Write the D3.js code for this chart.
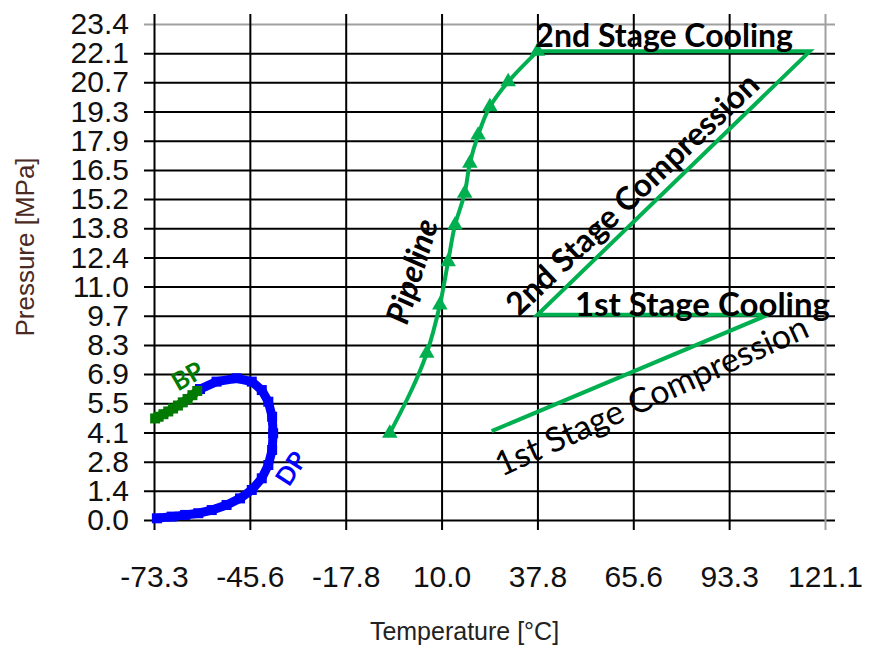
<!DOCTYPE html>
<html>
<head>
<meta charset="utf-8">
<script src="https://cdn.jsdelivr.net/npm/d3@7"></script>
<style>
  html, body { margin: 0; padding: 0; background: #fff; }
  svg { display: block; }
</style>
</head>
<body>
<svg id="chart" width="870" height="648"></svg>
<script>
// Axis ticks (°C and MPa, i.e. 50 °F and 200 psi steps)
const xTickValues = [-73.333, -45.556, -17.778, 10.0, 37.778, 65.556, 93.333, 121.111];
const yTickValues = [0, 1.379, 2.758, 4.137, 5.516, 6.895, 8.274, 9.653, 11.032, 12.411,
                     13.790, 15.168, 16.547, 17.926, 19.305, 20.684, 22.063, 23.442];

// Phase envelope: bubble point branch
const bpTemp  = [-73.0, -72.0, -70.6, -69.2, -67.8, -66.4, -65.0, -63.6, -62.2, -60.8];
const bpPress = [4.80, 4.88, 5.00, 5.13, 5.27, 5.41, 5.56, 5.72, 5.90, 6.10];

// Phase envelope: dew point branch
const dpTemp  = [-60.0, -55.2, -49.4, -45.0, -42.1, -40.2, -39.1, -38.8, -39.1, -40.2,
                 -42.1, -45.0, -48.4, -52.3, -56.6, -60.5, -64.3, -68.2, -72.5];
const dpPress = [6.19, 6.54, 6.70, 6.54, 6.14, 5.59, 4.88, 4.10, 3.31, 2.60,
                 1.97, 1.42, 1.02, 0.71, 0.47, 0.32, 0.24, 0.16, 0.08];

// Two-stage compression and cooling path
const compTemp  = [24.5, 104.6, 37.8, 116.7, 37.8];
const compPress = [4.20, 9.70, 9.70, 22.15, 22.15];

// Pipeline profile (outlet to inlet)
const pipeTemp  = [37.8, 29.3, 24.0, 20.6, 18.2, 16.7, 13.9, 11.9, 9.5, 5.7, -5.0];
const pipePress = [22.15, 20.71, 19.53, 18.19, 16.86, 15.44, 13.94, 12.21, 10.16, 7.88, 4.10];

const zip = (a, b) => a.map((v, i) => [v, b[i]]);
const bp   = zip(bpTemp, bpPress);
const dp   = zip(dpTemp, dpPress);
const comp = zip(compTemp, compPress);
const pipe = zip(pipeTemp, pipePress);

const svg = d3.select("#chart");
const x = d3.scaleLinear().domain([xTickValues[0], xTickValues[xTickValues.length - 1]]).range([154, 825]);
const y = d3.scaleLinear().domain([yTickValues[0], yTickValues[yTickValues.length - 1]]).range([520, 24]);

const xMax = x.domain()[1], yMax = y.domain()[1];
const GREEN = "#00b050";

// Grid lines, slightly overshooting the plot box like tick marks
const gy = svg.append("g")
  .attr("transform", `translate(${x.range()[1] + 10},0)`)
  .call(d3.axisLeft(y).tickValues(yTickValues).tickSize(x.range()[1] - x.range()[0] + 20).tickFormat(""));
gy.select(".domain").remove();
gy.selectAll(".tick line")
  .attr("stroke", d => d === yMax ? "#a0a0a0" : "#000")
  .attr("stroke-width", 2);

const gx = svg.append("g")
  .attr("transform", `translate(0,${y.range()[1] - 10})`)
  .call(d3.axisBottom(x).tickValues(xTickValues).tickSize(y.range()[0] - y.range()[1] + 20).tickFormat(""));
gx.select(".domain").remove();
gx.selectAll(".tick line")
  .attr("stroke", d => d === xMax ? "#a0a0a0" : "#000")
  .attr("stroke-width", 2);

// Tick labels (plain hyphen for negatives)
const fmt = d3.formatLocale({ decimal: ".", thousands: ",", grouping: [3], currency: ["", ""], minus: "-" }).format(".1f");
const ly = svg.append("g")
  .attr("transform", `translate(${x.range()[0]},0)`)
  .call(d3.axisLeft(y).tickValues(yTickValues).tickSize(0).tickPadding(25).tickFormat(fmt));
ly.select(".domain").remove();
ly.selectAll("text")
  .attr("font-family", "'Liberation Sans', Arial, sans-serif")
  .attr("font-size", 30).attr("fill", "#111");

const lx = svg.append("g")
  .attr("transform", `translate(0,${y.range()[0]})`)
  .call(d3.axisBottom(x).tickValues(xTickValues).tickSize(0).tickPadding(46).tickFormat(fmt));
lx.select(".domain").remove();
lx.selectAll("text")
  .attr("font-family", "'Liberation Sans', Arial, sans-serif")
  .attr("font-size", 30).attr("fill", "#111");

// Axis titles
svg.append("text")
  .attr("x", (x.range()[0] + x.range()[1]) / 2 - 25).attr("y", 640)
  .attr("text-anchor", "middle")
  .attr("font-family", "'Liberation Sans', Arial, sans-serif")
  .attr("font-size", 25).attr("fill", "#222")
  .text("Temperature [°C]");

svg.append("text")
  .attr("transform", `translate(34,${(y.range()[0] + y.range()[1]) / 2 - 25}) rotate(-90)`)
  .attr("text-anchor", "middle")
  .attr("font-family", "'Liberation Sans', Arial, sans-serif")
  .attr("font-size", 26).attr("fill", "#4a2a22")
  .text("Pressure [MPa]");

const line = d3.line().x(d => x(d[0])).y(d => y(d[1]));

// Phase envelope
svg.append("path").datum(dp).attr("d", line)
  .attr("fill", "none").attr("stroke", "#0000ff").attr("stroke-width", 9);
svg.append("g").selectAll("rect").data(dp).join("rect")
  .attr("x", d => x(d[0]) - 5).attr("y", d => y(d[1]) - 5)
  .attr("width", 10).attr("height", 10).attr("fill", "#0000ff");

svg.append("path").datum(bp).attr("d", line)
  .attr("fill", "none").attr("stroke", "#007a00").attr("stroke-width", 9);
svg.append("g").selectAll("rect").data(bp).join("rect")
  .attr("x", d => x(d[0]) - 5).attr("y", d => y(d[1]) - 5)
  .attr("width", 10).attr("height", 10).attr("fill", "#007a00");

// Compression / cooling path
svg.append("path").datum(comp).attr("d", line)
  .attr("fill", "none").attr("stroke", GREEN).attr("stroke-width", 4)
  .attr("stroke-linejoin", "miter");

// Pipeline with triangle markers
svg.append("path").datum(pipe).attr("d", d3.line().curve(d3.curveMonotoneY).x(d => x(d[0])).y(d => y(d[1])))
  .attr("fill", "none").attr("stroke", GREEN).attr("stroke-width", 4);
svg.append("g").selectAll("path").data(pipe).join("path")
  .attr("transform", d => `translate(${x(d[0])},${y(d[1])})`)
  .attr("d", d3.symbol(d3.symbolTriangle, 105))
  .attr("fill", GREEN);

// Annotations
const notes = [
  { text: "2nd Stage Cooling",     t: 74.5,  p: 22.95, angle: 0,     size: 32, weight: "bold",   style: "normal", color: "#000" },
  { text: "1st Stage Cooling",     t: 85.6,  p: 10.24, angle: 0,     size: 33, weight: "bold",   style: "normal", color: "#000" },
  { text: "1st Stage Compression", t: 70.6,  p: 5.95,  angle: -24.5, size: 34, weight: "normal", style: "normal", color: "#000" },
  { text: "2nd Stage Compression", t: 65.0,  p: 15.45, angle: -43.5, size: 32, weight: "bold",   style: "normal", color: "#000" },
  { text: "Pipeline",              t: 1.1,   p: 11.77, angle: -73,   size: 32, weight: "bold",   style: "italic", color: "#000" },
  { text: "BP",                    t: -63.8, p: 6.85,  angle: -30,   size: 25, weight: "bold",   style: "normal", color: "#007a00" },
  { text: "DP",                    t: -33.9, p: 2.46,  angle: -57,   size: 25, weight: "bold",   style: "normal", color: "#0000ff" }
];
svg.append("g").selectAll("text").data(notes).join("text")
  .attr("transform", d => `translate(${x(d.t)},${y(d.p)}) rotate(${d.angle})`)
  .attr("text-anchor", "middle")
  .attr("dominant-baseline", "central")
  .attr("font-family", "Lato, 'Open Sans', sans-serif")
  .attr("font-size", d => d.size)
  .attr("font-weight", d => d.weight)
  .attr("font-style", d => d.style)
  .attr("fill", d => d.color)
  .text(d => d.text);
</script>
</body>
</html>
